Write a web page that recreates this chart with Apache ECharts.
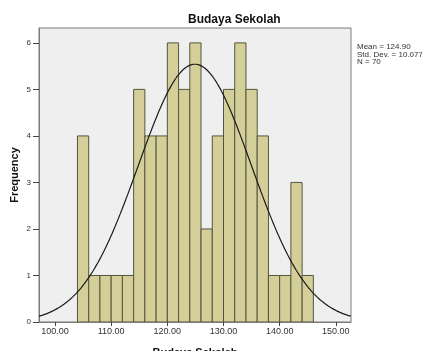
<!DOCTYPE html>
<html><head><meta charset="utf-8">
<script src="https://cdn.jsdelivr.net/npm/echarts@6/dist/echarts.min.js"></script>
<style>html,body{margin:0;padding:0;background:#fff}#c{width:422px;height:351px}</style>
</head><body><div id="c"></div>
<script>
// Histogram bins (lower edges), width 2
const binStarts = [104,106,108,110,112,114,116,118,120,122,124,126,128,130,132,134,136,138,140,142,144];
const frequencies = [4,1,1,1,1,5,4,4,6,5,6,2,4,5,6,5,4,1,1,3,1];
const binWidth = 2;
const xTicks = [100,110,120,130,140,150];
const yTicks = [0,1,2,3,4,5,6];
const statMean = 124.90, statSD = 10.077, statN = 70;
const statLines = ['Mean = 124.90','Std. Dev. = 10.077','N = 70'];

const xMin = 97.15, xMax = 152.7, yMax = 6.32;
const barData = binStarts.map((s,i)=>[s, s+binWidth, frequencies[i]]);
const curve = [];
for (let x = xMin; x <= xMax + 1e-9; x += 0.25) {
  const z = (x - statMean)/statSD;
  curve.push([x, statN*binWidth/(statSD*Math.sqrt(2*Math.PI))*Math.exp(-0.5*z*z)]);
}
const font = 'Liberation Sans, Arial, sans-serif';
const chart = echarts.init(document.getElementById('c'));
chart.setOption({
  animation:false,
  textStyle:{fontFamily:font},
  title:{text:'Budaya Sekolah',left:188,top:14,padding:0,
    textStyle:{fontSize:12,fontWeight:'bold',color:'#111',fontFamily:font}},
  grid:{left:39,right:71,top:28,bottom:29,outerBoundsMode:'none',containLabel:false,
    show:true,backgroundColor:'#efefef',borderColor:'#7a7a7a',borderWidth:1},
  xAxis:{type:'value',min:xMin,max:xMax,
    name:'Budaya Sekolah',nameLocation:'middle',nameGap:25,nameMoveOverlap:false,
    nameTextStyle:{fontSize:11,fontWeight:'bold',color:'#111'},
    axisLine:{show:true,lineStyle:{color:'#7a7a7a'}},
    axisTick:{show:true,length:4,customValues:xTicks,lineStyle:{color:'#444'}},
    axisLabel:{customValues:xTicks,fontSize:9,color:'#333',margin:5,formatter:v=>v.toFixed(2)},
    splitLine:{show:false}},
  yAxis:{type:'value',min:0,max:yMax,
    name:'Frequency',nameLocation:'middle',nameGap:19,nameMoveOverlap:false,
    nameTextStyle:{fontSize:11,fontWeight:'bold',color:'#111'},
    axisLine:{show:true,lineStyle:{color:'#7a7a7a'}},
    axisTick:{show:true,length:6,customValues:yTicks,lineStyle:{color:'#444'}},
    axisLabel:{customValues:yTicks,fontSize:8,color:'#333',margin:8},
    splitLine:{show:false}},
  series:[
    {type:'custom',data:barData,clip:true,
     renderItem:function(params,api){
       const p0=api.coord([api.value(0),0]);
       const p1=api.coord([api.value(1),api.value(2)]);
       return {type:'rect',shape:{x:p0[0],y:p1[1],width:p1[0]-p0[0],height:p0[1]-p1[1]},
         style:{fill:'#d4cf99',stroke:'#55553f',lineWidth:1}};
     },
     encode:{x:[0,1],y:2}, z:2},
    {type:'line',data:curve,showSymbol:false,symbol:'none',smooth:false,
     lineStyle:{color:'#1a1a1a',width:1.2},z:3,clip:true}
  ],
  graphic:[{type:'text',left:357,top:43,
    style:{text:statLines.join('\n'),fontSize:8,lineHeight:7.5,fill:'#333',fontFamily:font}}]
});
</script></body></html>
